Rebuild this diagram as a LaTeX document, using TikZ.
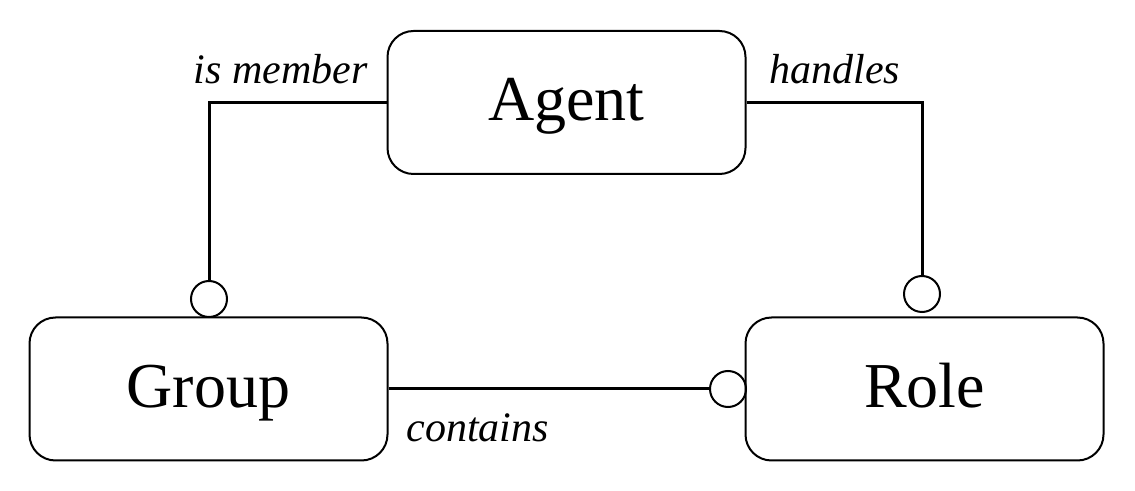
\documentclass[tikz,border=0pt]{standalone}
\usepackage{fontspec}
\setmainfont{Liberation Serif}
\usepackage{tikz}
\tikzstyle{entity} = [draw, line width=1pt, rounded corners=13pt, minimum width=179pt, minimum height=71.5pt, inner sep=0pt, text height=22pt, text depth=3.5pt, font=\fontsize{32}{38}\selectfont]
\tikzstyle{ring} = [draw, circle, line width=1pt, minimum size=18pt, inner sep=0pt]
\tikzstyle{link} = [line width=1.5pt]
\tikzstyle{role} = [inner sep=0pt, font=\fontsize{21}{25}\selectfont\itshape]

\begin{document}
\begin{tikzpicture}[x=0.5pt, y=-0.5pt]
        \useasboundingbox (0,0) rectangle (1135,491);
        \node[entity] at (566.5,102.5) (agent) {Agent};
        \node[entity] at (208.5,389) (group) {Group};
        \node[entity] at (924.5,389) (role) {Role};

        \node[ring] at (209,299) (gring) {};
        \node[ring] at (922,294) (rring) {};
        \node[ring] at (728,389) (cring) {};

        \draw[link] (agent.west) -| (gring.north);
        \draw[link] (agent.east) -| (rring.north);
        \draw[link] (group.east) -- (cring.west);

        \node[role, anchor=base east] at (368,84) (member) {is member};
        \node[role, anchor=base west] at (769,84) (handles) {handles};
        \node[role, anchor=base west] at (406,442) (contains) {contains};
\end{tikzpicture}
\end{document}
